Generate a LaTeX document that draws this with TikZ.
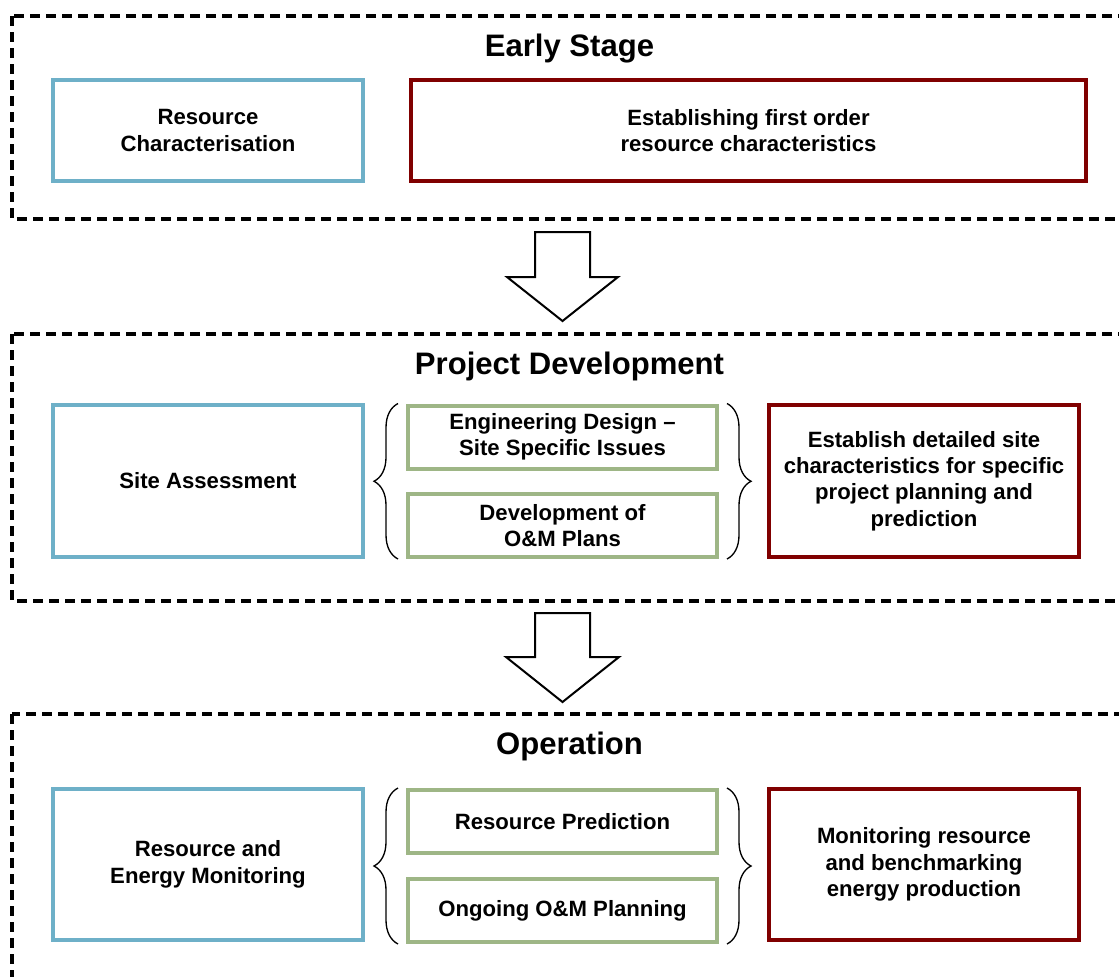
\documentclass[tikz,border=0pt]{standalone}
\usepackage{fontspec}
\setmainfont{Liberation Sans}
\usepackage{tikz}
\usetikzlibrary{decorations.pathreplacing,calc}
\usetikzlibrary{positioning}
\definecolor{stageblue}{RGB}{110,176,200}
\definecolor{stagered}{RGB}{128,0,0}
\definecolor{stagegreen}{RGB}{158,182,134}

\begin{document}
\begin{tikzpicture}[x=0.75pt,y=0.75pt,yscale=-1,xscale=1]
  \tikzstyle{stagebox} = [draw=black,line width=2.4pt,dash pattern=on 7.5pt off 4.5pt]
  \tikzstyle{title} = [anchor=base,inner sep=0pt,font=\bfseries\fontsize{23.3}{28}\selectfont]
  \tikzstyle{box} = [rectangle,line width=3pt,align=center,inner sep=2pt,font=\bfseries\fontsize{16.6}{19.8}\selectfont]
  \tikzstyle{activity} = [box,draw=stageblue,minimum width=232.5pt]
  \tikzstyle{outcome} = [box,draw=stagered,minimum width=232.5pt]
  \tikzstyle{task} = [box,draw=stagegreen,minimum width=231.75pt,minimum height=47.25pt]
  \tikzstyle{curly} = [line width=1pt,decorate,decoration={brace,amplitude=18pt}]
  \tikzstyle{blockarrow} = [draw=black,line width=1.5pt,fill=white,line join=miter]
  \clip (0,0) rectangle (1119,976);
  \useasboundingbox (0,0) rectangle (1119,976);
  %Draw the stage frames
  \draw[stagebox] (12,16) rectangle (1135,219);
  \draw[stagebox] (12,334) rectangle (1135,601);
  \draw[stagebox] (12,714) rectangle (1135,995);
  \node[title] (early) at (569.5,56) {Early Stage};
  \node[title] (project) at (569.5,374.5) {Project Development};
  \node[title] (operation) at (569.5,754.5) {Operation};

  %Early stage
  \node[activity,minimum height=75.75pt] (resChar) at (208,130.5) {Resource\\Characterisation};
  \node[outcome,minimum width=506.25pt,minimum height=75.75pt] (firstOrder) at (748.5,130.5) {Establishing first order\\resource characteristics};

  %Project development
  \node[activity,minimum height=114pt] (siteAss) at (208,481) {Site Assessment};
  \node[task] (engDes) at (562.5,437) {Engineering Design --\\Site Specific Issues};
  \node[task] (omPlans) at (562.5,525.5) {Development of\\O\&M Plans};
  \node[outcome,minimum height=114pt] (detailed) at (924,481) {Establish detailed site\\characteristics for specific\\project planning and\\prediction};
  \draw[curly] ([xshift=-6pt]omPlans.south west) -- ([xshift=-6pt]engDes.north west);
  \draw[curly] ([xshift=6pt]engDes.north east) -- ([xshift=6pt]omPlans.south east);

  %Operation
  \node[activity,minimum height=113.25pt] (monEnergy) at (208,864.5) {Resource and\\Energy Monitoring};
  \node[task] (resPred) at (562.5,821.5) {Resource Prediction};
  \node[task] (ongoingOM) at (562.5,910.5) {Ongoing O\&M Planning};
  \node[outcome,minimum height=113.25pt] (benchmark) at (924,864.5) {Monitoring resource\\and benchmarking\\energy production};
  \draw[curly] ([xshift=-6pt]ongoingOM.south west) -- ([xshift=-6pt]resPred.north west);
  \draw[curly] ([xshift=6pt]resPred.north east) -- ([xshift=6pt]ongoingOM.south east);

  %Draw the block arrows between stages
  \draw[blockarrow] (535,232) -- (590,232) -- (590,277) -- (618,277) -- (562.5,321) -- (507,277) -- (535,277) -- cycle;
  \draw[blockarrow] (535,613) -- (590,613) -- (590,657) -- (619,657) -- (562.5,702) -- (506,657) -- (535,657) -- cycle;
\end{tikzpicture}
\end{document}
